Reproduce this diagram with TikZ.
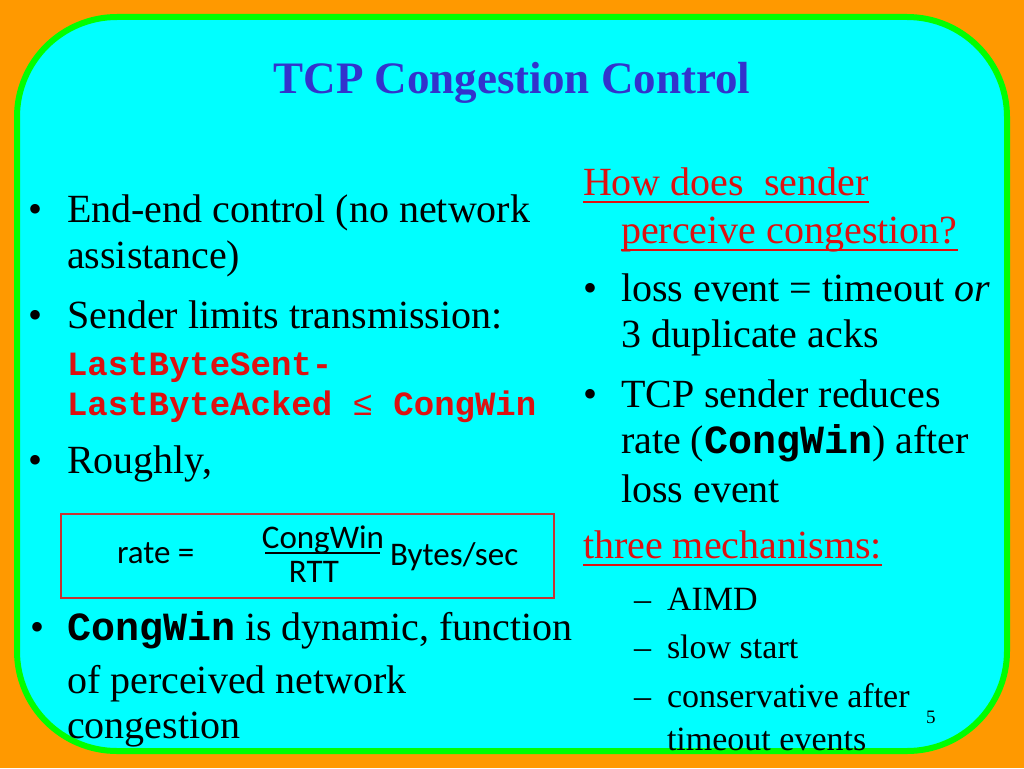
\documentclass[tikz,border=0pt]{standalone}
\usepackage{fontspec}
\setmainfont{Liberation Serif}
\setmonofont{Liberation Mono}
\newfontfamily\formfont{Carlito}
\definecolor{bgorange}{RGB}{255,153,0}
\definecolor{panelcyan}{RGB}{0,255,255}
\definecolor{panelgreen}{RGB}{0,255,0}
\definecolor{titleblue}{RGB}{51,51,204}
\definecolor{hred}{RGB}{221,17,17}
\definecolor{boxred}{RGB}{200,50,50}
\tikzset{
  txt/.style={inner sep=0pt, outer sep=0pt, anchor=base west, font=\fontsize{40}{46}\selectfont},
  small/.style={inner sep=0pt, outer sep=0pt, anchor=base west, font=\fontsize{34}{40}\selectfont},
  code/.style={inner sep=0pt, outer sep=0pt, anchor=base west, text=hred, font=\fontsize{34}{40}\selectfont\ttfamily\bfseries},
  head/.style={txt, text=hred},
  uline/.style={draw=hred, line width=1.8pt},
  form/.style={inner sep=0pt, outer sep=0pt, font=\fontsize{33}{38}\selectfont\formfont},
  bul/.style={inner sep=0pt, outer sep=0pt, anchor=base west, font=\fontsize{40}{46}\selectfont}
}
\begin{document}
\begin{tikzpicture}[x=1pt,y=-1pt]
\useasboundingbox (0,0) rectangle (1024,768);
\fill[bgorange] (0,0) rectangle (1024,768);
\draw[panelgreen, fill=panelcyan, line width=6pt, rounded corners=100pt] (17,17) rectangle (1007,751);

% title
\node[inner sep=0pt, anchor=base, text=titleblue, font=\fontsize{45}{50}\selectfont\bfseries] (title) at (512,93) {TCP Congestion Control};

% left column
\node[bul] (b1) at (28,222) {•};
\node[txt] (l1) at (67,222) {End-end control (no network};
\node[txt] (l2) at (67,268) {assistance)};
\node[bul] (b2) at (28,328) {•};
\node[txt] (l3) at (67,328) {Sender limits transmission:};
\node[code] (l4) at (67,375) {LastByteSent-};
\node[code] (l5) at (67,415) {LastByteAcked {\mdseries≤} CongWin};
\node[bul] (b3) at (28,473) {•};
\node[txt] (l6) at (67,473) {Roughly,};

% formula box
\node[draw=boxred, line width=1.6pt, minimum width=493pt, minimum height=84pt, inner sep=0pt, anchor=north west] (fbox) at (60,513) {};
\node[form, anchor=base west] (rate) at (117,563) {rate =};
\node[form, anchor=base] (num) at (323,548) {CongWin};
\node[form, anchor=base] (den) at (314,582) {RTT};
\coordinate (fl) at (265,553);
\coordinate (fr) at (380,553);
\draw[line width=1.6pt] (fl) -- (fr);
\node[form, anchor=base west] (unit) at (390,565) {Bytes/sec};

\node[bul] (b4) at (30,640) {•};
\node[txt] (l7) at (67,640) {\textbf{\ttfamily CongWin} is dynamic, function};
\node[txt] (l8) at (67,693) {of perceived network};
\node[txt] (l9) at (67,738) {congestion};

% right column
\node[head] (h1) at (583,195) {How does\ \ sender};
\draw[uline] ([yshift=-7pt]h1.base west) -- ([yshift=-7pt]h1.base east);
\node[head] (h2) at (621,243) {perceive congestion?};
\draw[uline] ([yshift=-7pt]h2.base west) -- ([yshift=-7pt]h2.base east);
\node[bul] (b5) at (583,301) {•};
\node[txt] (r1) at (621,301) {loss event = timeout \textit{or}};
\node[txt] (r2) at (621,347) {3 duplicate acks};
\node[bul] (b6) at (583,407) {•};
\node[txt] (r3) at (621,407) {TCP sender reduces};
\node[txt] (r4) at (621,453) {rate (\textbf{\ttfamily CongWin}) after};
\node[txt] (r5) at (621,502) {loss event};
\node[head] (h3) at (583,558) {three mechanisms:};
\draw[uline] ([yshift=-7pt]h3.base west) -- ([yshift=-7pt]h3.base east);
\node[small] (d1) at (634,610) {–};
\node[small] (s1) at (667,610) {AIMD};
\node[small] (d2) at (634,658) {–};
\node[small] (s2) at (667,658) {slow start};
\node[small] (d3) at (634,707) {–};
\node[small] (s3) at (667,707) {conservative after};
\node[small] (s4) at (667,750) {timeout events};

\node[inner sep=0pt, anchor=base west, font=\fontsize{19}{22}\selectfont] (pg) at (926,723) {5};
\end{tikzpicture}
\end{document}
